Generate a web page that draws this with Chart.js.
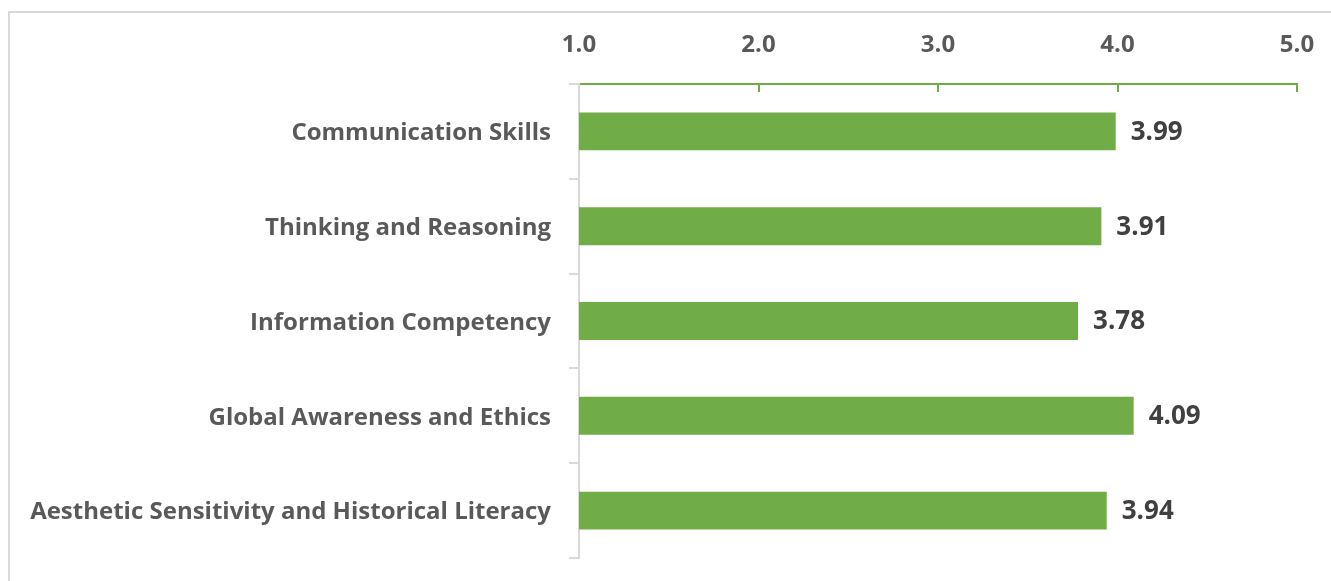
<!DOCTYPE html>
<html>
<head>
<meta charset="utf-8">
<script src="https://cdn.jsdelivr.net/npm/chart.js@4.4.1/dist/chart.umd.min.js"></script>
<style>
    html, body { margin: 0; padding: 0; background: #fff; overflow: hidden; }
    .frame {
        position: absolute; left: 8px; top: 11px; right: 0; bottom: 0;
        border-top: 2px solid #d9d9d9; border-left: 2px solid #d9d9d9;
    }
    .wrap { position: absolute; left: 0; top: 0; width: 1331px; height: 581px; }
</style>
</head>
<body>
<div class="frame"></div>
<div class="wrap"><canvas id="chart"></canvas></div>
<script>
// Competency scores
const categories = [
    "Communication Skills",
    "Thinking and Reasoning",
    "Information Competency",
    "Global Awareness and Ethics",
    "Aesthetic Sensitivity and Historical Literacy",
];
const scores = [3.99, 3.91, 3.78, 4.09, 3.94];
const xTicks = [1.0, 2.0, 3.0, 4.0, 5.0];

const GREEN = "#70ad47";
const FONT = "'Open Sans', 'Noto Sans', sans-serif";

// Value labels at the end of each bar
const valueLabels = {
    id: "valueLabels",
    afterDatasetsDraw(chart) {
        const ctx = chart.ctx;
        const meta = chart.getDatasetMeta(0);
        ctx.save();
        ctx.fillStyle = "#404040";
        ctx.font = "bold 26px " + FONT;
        ctx.textAlign = "left";
        ctx.textBaseline = "middle";
        meta.data.forEach(function(bar, i) {
            ctx.fillText(scores[i].toFixed(2), bar.x + 15, bar.y + 1);
        });
        ctx.restore();
    },
};

// Excel draws the top axis tick marks pointing into the plot
const innerTicks = {
    id: "innerTicks",
    afterDraw(chart) {
        const ctx = chart.ctx;
        const x = chart.scales.x;
        const top = chart.chartArea.top;
        ctx.save();
        ctx.strokeStyle = GREEN;
        ctx.lineWidth = 2;
        xTicks.slice(1).forEach(function(v) {
            const px = Math.round(x.getPixelForValue(v));
            ctx.beginPath();
            ctx.moveTo(px, top);
            ctx.lineTo(px, top + 8);
            ctx.stroke();
        });
        ctx.restore();
    },
};

new Chart(document.getElementById("chart").getContext("2d"), {
    type: "bar",
    data: {
        labels: categories,
        datasets: [{
            data: scores,
            backgroundColor: GREEN,
            borderWidth: 0,
            barPercentage: 0.4,
            categoryPercentage: 1.0,
        }],
    },
    plugins: [valueLabels, innerTicks],
    options: {
        indexAxis: "y",
        responsive: true,
        maintainAspectRatio: false,
        animation: false,
        layout: { padding: { left: 10, right: 34, top: 0, bottom: 23 } },
        plugins: {
            legend: { display: false },
            tooltip: { enabled: false },
        },
        scales: {
            x: {
                position: "top",
                min: 1,
                max: 5,
                afterBuildTicks(scale) {
                    scale.ticks = xTicks.map(function(v) { return { value: v }; });
                },
                afterFit(scale) {
                    scale.height = 84;
                    // the label padding should not push the plot edges in
                    scale.paddingLeft = 0;
                    scale.paddingRight = 0;
                },
                ticks: {
                    color: "#595959",
                    font: { family: FONT, size: 24, weight: "bold" },
                    padding: 24,
                    callback: function(v) { return Number(v).toFixed(1); },
                },
                grid: { display: true, drawOnChartArea: false, drawTicks: false, color: "transparent" },
                border: { display: true, color: GREEN, width: 2 },
            },
            y: {
                afterFit(scale) {
                    scale.width = 569;
                    scale.paddingTop = 0;
                    scale.paddingBottom = 0;
                },
                ticks: {
                    color: "#595959",
                    font: { family: FONT, size: 24, weight: "bold" },
                    padding: 18,
                    labelOffset: 2,
                },
                grid: {
                    display: true,
                    drawOnChartArea: false,
                    drawTicks: true,
                    tickLength: 10,
                    color: "#d9d9d9",
                    lineWidth: 2,
                    offset: true,
                },
                border: { display: true, color: "#d9d9d9", width: 2 },
            },
        },
    },
});
</script>
</body>
</html>
